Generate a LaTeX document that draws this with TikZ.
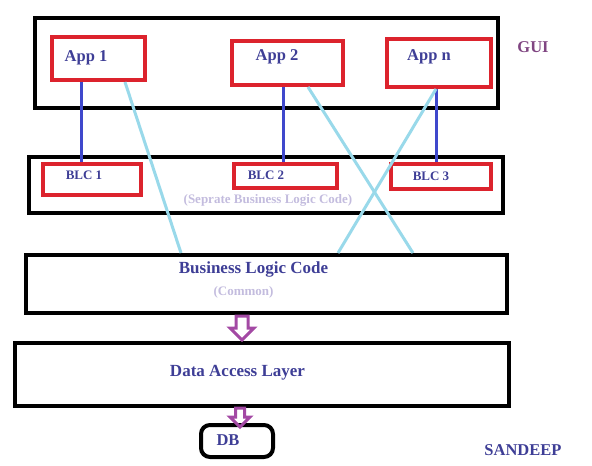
\documentclass[tikz,border=0pt]{standalone}
\usepackage{fontspec}
\setmainfont{Liberation Serif}
\definecolor{txtblue}{RGB}{62,62,150}
\definecolor{guipurple}{RGB}{128,70,130}
\definecolor{pale}{RGB}{195,188,222}
\definecolor{appred}{RGB}{220,35,45}
\definecolor{linkblue}{RGB}{63,72,204}
\definecolor{crossblue}{RGB}{153,217,234}
\definecolor{arrowpurple}{RGB}{163,73,164}

\begin{document}
\begin{tikzpicture}[x=1pt,y=-1pt,
  layer/.style={draw=black,line width=4pt,inner sep=0pt},
  app/.style={draw=appred,line width=4pt,inner sep=0pt},
  lbl/.style={text=txtblue,inner sep=0pt,font=\bfseries\fontsize{16.5}{18}\selectfont},
  small/.style={text=txtblue,inner sep=0pt,font=\bfseries\fontsize{13}{15}\selectfont},
  note/.style={text=pale,inner sep=0pt,font=\bfseries\fontsize{13}{15}\selectfont},
  link/.style={draw=linkblue,line width=3pt},
  cross/.style={draw=crossblue,line width=3pt},
  hollow/.style={draw=arrowpurple,line width=3pt,line join=miter}]
\useasboundingbox (0,0) rectangle (592,466);
\node[layer,minimum width=463pt,minimum height=90pt] (gui) at (266.5,63) {};
\node[app,minimum width=93pt,minimum height=43pt] (app1) at (98.5,58.5) {};
\node[app,minimum width=111pt,minimum height=44pt] (app2) at (287.5,63) {};
\node[app,minimum width=104pt,minimum height=48pt] (appn) at (439,63) {};
\node[layer,minimum width=474pt,minimum height=56pt] (sep) at (266,185) {};
\node[app,minimum width=98pt,minimum height=31pt] (blc1) at (92,179.5) {};
\node[app,minimum width=103pt,minimum height=24pt] (blc2) at (285.5,176) {};
\node[app,minimum width=100pt,minimum height=25pt] (blc3) at (441,176.5) {};
\node[layer,minimum width=481pt,minimum height=58pt] (common) at (266.5,284) {};
\node[layer,minimum width=494pt,minimum height=63pt] (dal) at (262,374.5) {};
\node[layer,rounded corners=9pt,minimum width=72pt,minimum height=32pt] (db) at (237,441) {};
\draw[link] ([xshift=31pt]app1.south west) -- ([xshift=31pt]app1.south west |- blc1.north);
\draw[link] ([xshift=53pt]app2.south west) -- ([xshift=53pt]app2.south west |- blc2.north);
\draw[link] ([xshift=51pt]appn.south west) -- ([xshift=51pt]appn.south west |- blc3.north);
\draw[cross] ([xshift=75pt]app1.south west) -- ([xshift=157pt]common.north west);
\draw[cross] ([xshift=78pt]app2.south west) -- ([xshift=389pt]common.north west);
\draw[cross] ([xshift=51pt]appn.south west) -- ([xshift=314pt]common.north west);
\coordinate (a1) at (242,316);
\draw[hollow] (a1) ++(-6,0) -- ++(0,12) -- ++(-6,0) -- ++(12,12) -- ++(12,-12) -- ++(-6,0) -- ++(0,-12) -- cycle;
\coordinate (a2) at (240,408);
\draw[hollow] (a2) ++(-4.5,0) -- ++(0,9) -- ++(-5.5,0) -- ++(10,10) -- ++(10,-10) -- ++(-5.5,0) -- ++(0,-9) -- cycle;
\node[lbl] (t1) at (86,58) {App 1};
\node[lbl] (t2) at (277,57) {App 2};
\node[lbl] (tn) at (429,57) {App n};
\node[lbl,text=guipurple] (tgui) at (533,47) {GUI};
\node[small] (b1) at (84,175) {BLC 1};
\node[small] (b2) at (266,175) {BLC 2};
\node[small] (b3) at (431,176) {BLC 3};
\node[note] (tsep) at (268,200) {(Seprate Business Logic Code)};
\node[lbl,font=\bfseries\fontsize{17}{19}\selectfont] (tcommon) at (253.5,269) {Business Logic Code};
\node[note] (tc) at (243.5,292) {(Common)};
\node[lbl,font=\bfseries\fontsize{17}{19}\selectfont] (tdal) at (237.5,373) {Data Access Layer};
\node[lbl] (tdb) at (228,440) {DB};
\node[lbl] (tsan) at (523,450) {SANDEEP};
\end{tikzpicture}
\end{document}
